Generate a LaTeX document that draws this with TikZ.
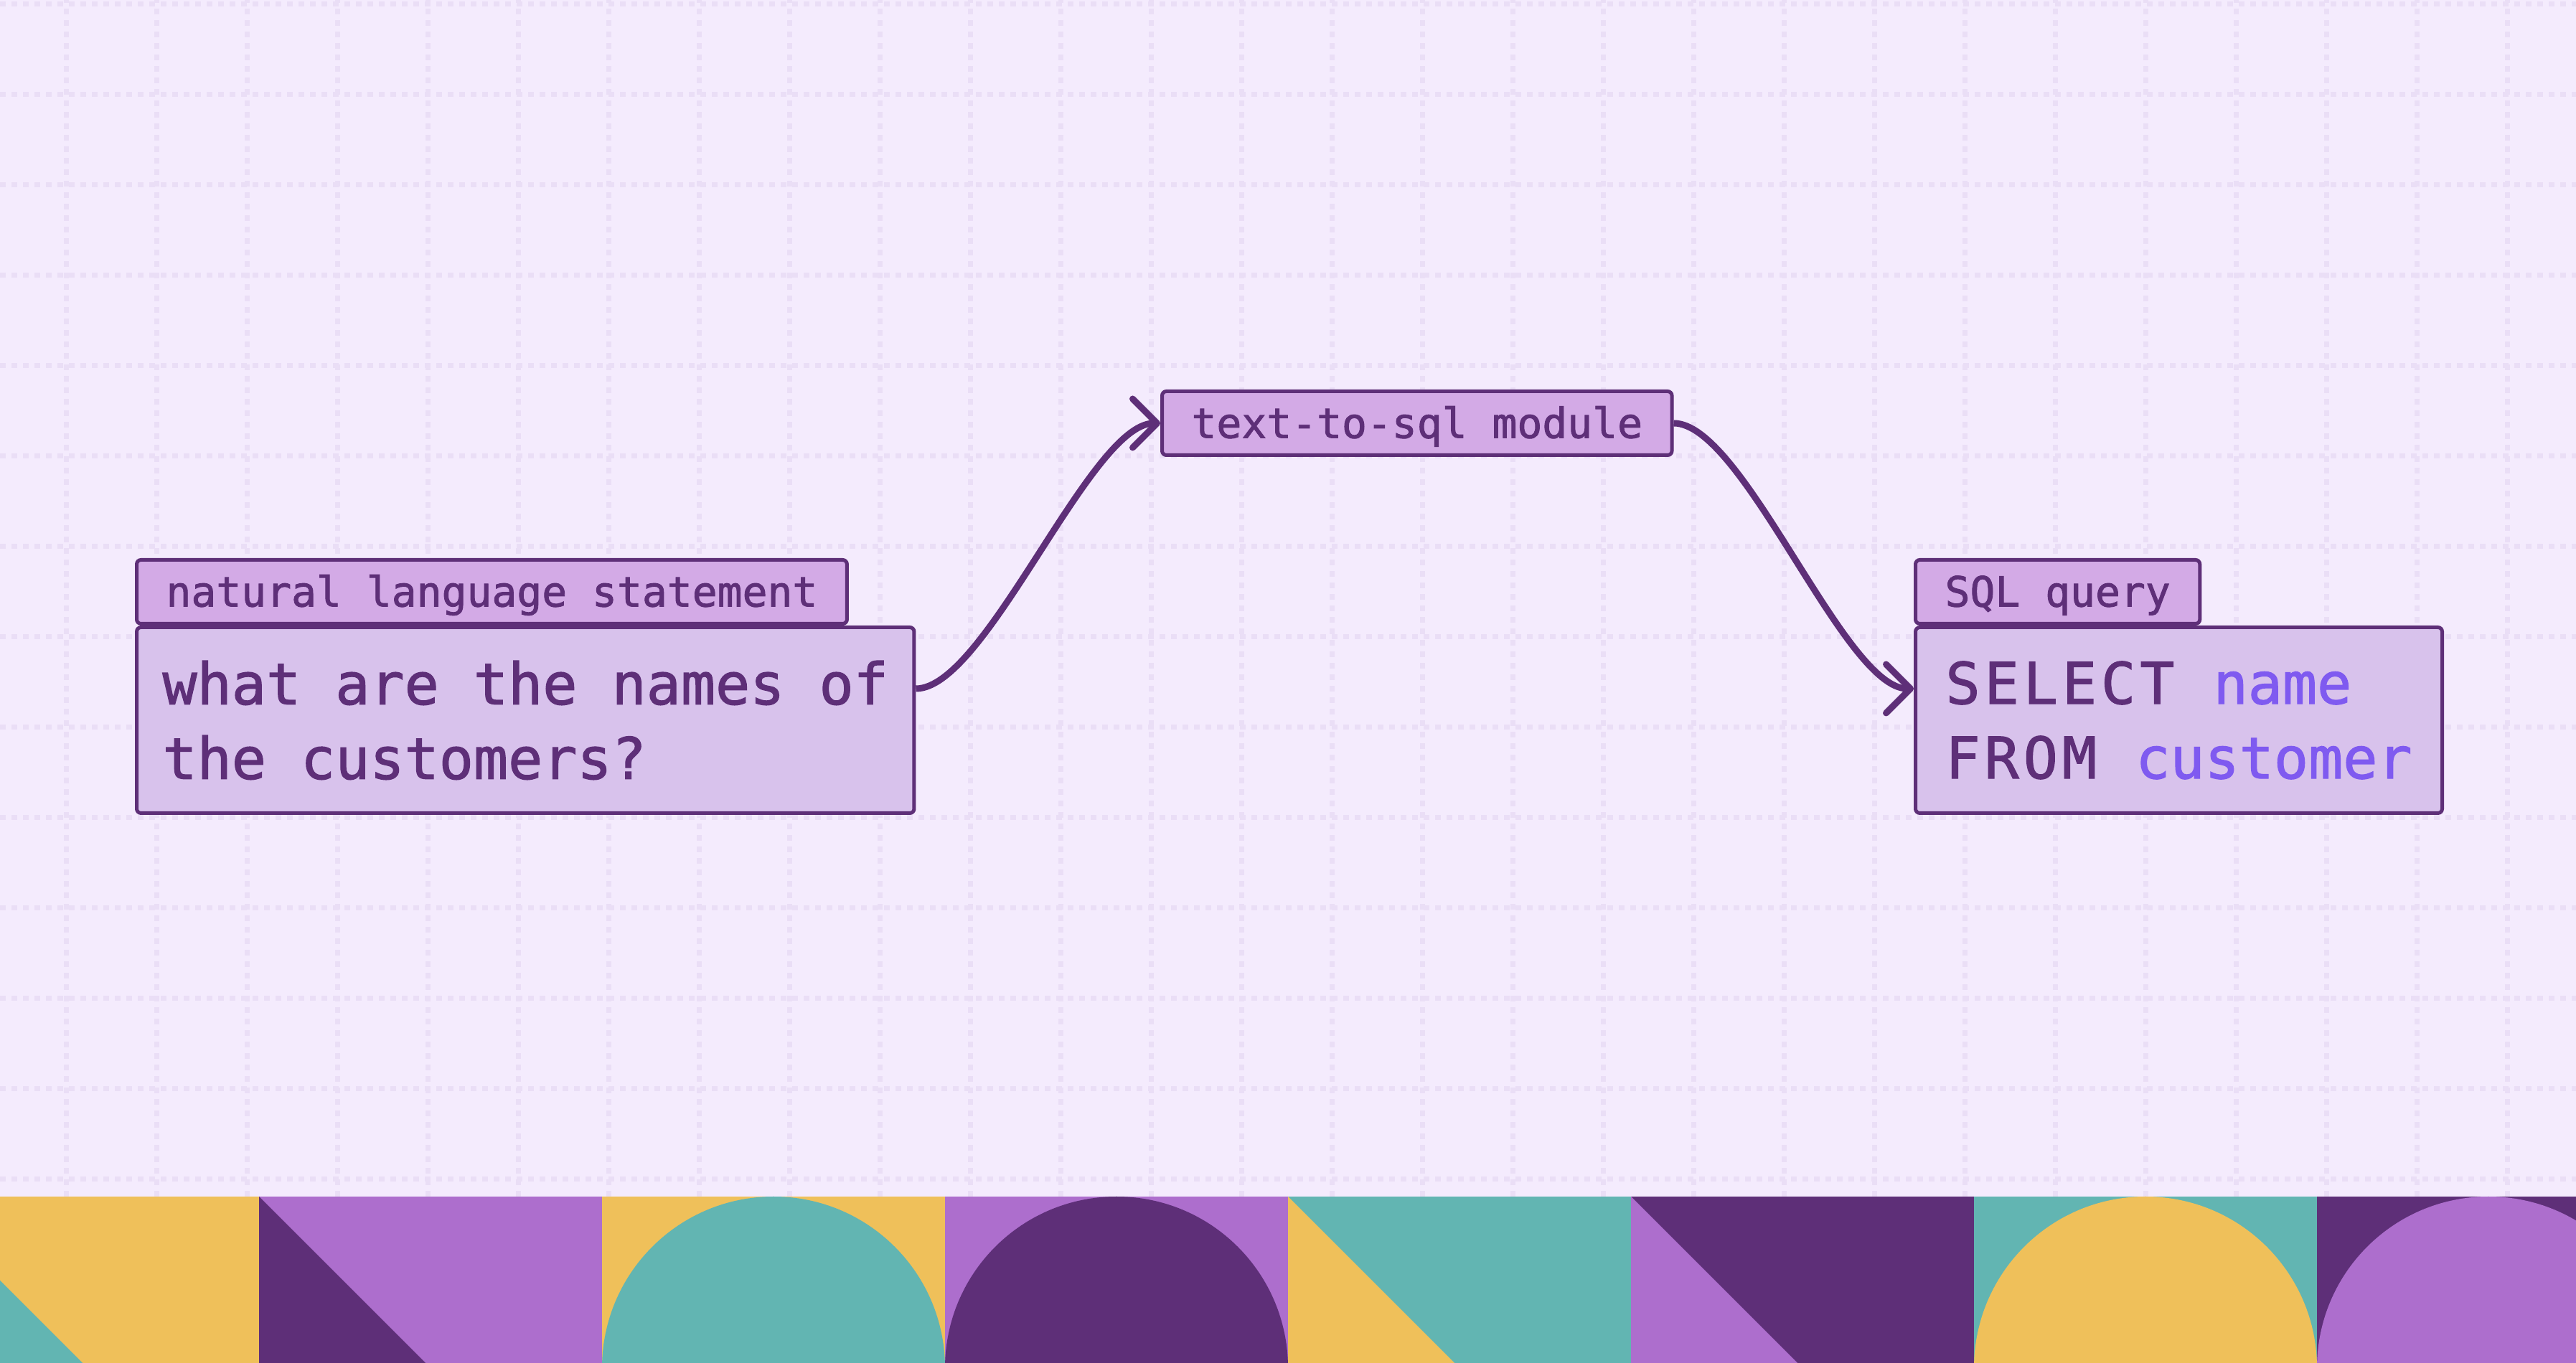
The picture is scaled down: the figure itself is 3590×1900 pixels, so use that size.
\documentclass[tikz,border=0pt]{standalone}
\usepackage{fontspec}
\setmonofont{DejaVu Sans Mono}[FakeBold=1.5]
\newfontfamily\keyfont{DejaVu Sans Mono}[LetterSpace=7.5, FakeBold=1.5]
\usepackage{tikz}
\usetikzlibrary{arrows.meta, positioning}

\definecolor{paper}{HTML}{F4EBFD}
\definecolor{gridink}{HTML}{EADEF6}
\definecolor{ink}{HTML}{5E2F78}
\definecolor{tabfill}{HTML}{D3AAE6}
\definecolor{boxfill}{HTML}{D8C2EC}
\definecolor{hilite}{HTML}{7F5AF0}
\definecolor{sun}{HTML}{EFC05A}
\definecolor{sea}{HTML}{62B5B2}
\definecolor{lilac}{HTML}{AD6ECD}
\definecolor{plum}{HTML}{5E2F78}

\tikzset{
  gridline/.style={gridink, line width=7pt, dash pattern=on 8pt off 8pt},
  tagbox/.style={draw=ink, fill=tabfill, line width=5pt, rounded corners=6pt,
    inner xsep=41pt, minimum height=89pt, text height=44pt, text depth=3pt,
    text=ink, font=\fontsize{58}{70}\selectfont\ttfamily},
  bodybox/.style={draw=ink, fill=boxfill, line width=5pt, rounded corners=6pt,
    inner xsep=36pt, minimum height=259pt, align=left,
    text=ink, font=\fontsize{80}{104}\selectfont\ttfamily},
  flow/.style={draw=ink, line width=9pt,
    -{Straight Barb[length=34pt, width=68pt, round]},
    out=0, in=180, looseness=0.5},
}

\begin{document}
\begin{tikzpicture}[x=1pt, y=1pt]
    \useasboundingbox (0,0) rectangle (3590,1900);
    \fill[paper] (0,0) rectangle (3590,1900);

    % Dotted grid
    \foreach \x in {92,218,...,3494}
        \draw[gridline] (\x,232) -- (\x,1900);
    \foreach \y in {256,382,...,1894}
        \draw[gridline] (0,\y) -- (3590,\y);

    % Tiles along the bottom
    \begin{scope}
        \clip (0,0) rectangle (3590,232);
        \foreach \i/\bg/\fg in {0/sun/sea, 1/lilac/plum, 4/sea/sun, 5/plum/lilac} {
            \fill[\bg] (-117+478*\i,-246) rectangle ++(478,478);
            \fill[\fg] (-117+478*\i,232) -- ++(0,-478) -- ++(478,0) -- cycle;
        }
        \foreach \i/\bg/\fg in {2/sun/sea, 3/lilac/plum, 6/sea/sun, 7/plum/lilac} {
            \fill[\bg] (-117+478*\i,-246) rectangle ++(478,478);
            \fill[\fg] (122+478*\i,-7) circle[radius=239];
        }
    \end{scope}

    % Boxes
    \node[bodybox, anchor=north west] (ask) at (188,1028)
        {what are the names of\\the customers?};
    \node[tagbox, anchor=south west] (asktag) at (ask.north west)
        {natural language statement};

    \node[tagbox, anchor=north west] (module) at (1617,1357) {text-to-sql module};

    \node[bodybox, anchor=north west, minimum width=734pt] (query) at (2667,1028)
        {{\keyfont SELECT }\textcolor{hilite}{name}\\{\keyfont FROM }\textcolor{hilite}{customer}};
    \node[tagbox, anchor=south west] (querytag) at (query.north west) {SQL query};

    % Connectors
    \draw[flow] ([yshift=44pt]ask.east) to (module.west);
    \draw[flow] (module.east) to ([yshift=44pt]query.west);
\end{tikzpicture}
\end{document}
